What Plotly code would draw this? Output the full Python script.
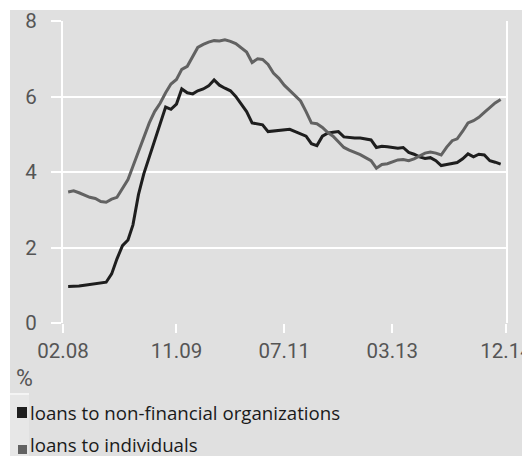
import plotly.graph_objects as go
import pandas as pd

# ---- data (monthly, Mar 2008 .. Nov 2014), % ----
dates = pd.date_range("2008-03-01", "2014-11-01", freq="MS")

nonfin = [
    0.97, 0.97, 0.98, 1.00, 1.02, 1.04, 1.05, 1.08, 1.30, 1.70,
    2.05, 2.20, 2.60, 3.40, 3.95, 4.40, 4.85, 5.33, 5.72, 5.66,
    5.80, 6.20, 6.10, 6.07, 6.15, 6.20, 6.28, 6.44, 6.30, 6.22,
    6.15, 6.00, 5.80, 5.60, 5.30, 5.27, 5.25, 5.07, 5.08, 5.10,
    5.12, 5.13, 5.07, 5.00, 4.95, 4.75, 4.70, 4.95, 5.03, 5.05,
    5.07, 4.93, 4.91, 4.90, 4.90, 4.87, 4.85, 4.65, 4.68, 4.67,
    4.65, 4.63, 4.65, 4.52, 4.47, 4.40, 4.36, 4.38, 4.30, 4.17,
    4.20, 4.22, 4.25, 4.35, 4.48, 4.40, 4.47, 4.45, 4.30, 4.26,
    4.21,
]

individuals = [
    3.47, 3.50, 3.45, 3.38, 3.33, 3.30, 3.22, 3.20, 3.28, 3.33,
    3.55, 3.80, 4.15, 4.55, 4.90, 5.30, 5.60, 5.82, 6.10, 6.33,
    6.45, 6.72, 6.80, 7.05, 7.30, 7.38, 7.44, 7.48, 7.47, 7.50,
    7.46, 7.40, 7.30, 7.18, 6.90, 7.00, 6.98, 6.85, 6.62, 6.48,
    6.30, 6.16, 6.04, 5.88, 5.60, 5.30, 5.28, 5.18, 5.05, 4.95,
    4.80, 4.65, 4.58, 4.52, 4.46, 4.38, 4.30, 4.10, 4.20, 4.22,
    4.27, 4.32, 4.33, 4.30, 4.35, 4.43, 4.50, 4.53, 4.50, 4.45,
    4.66, 4.83, 4.88, 5.08, 5.30, 5.36, 5.45, 5.58, 5.72, 5.83,
    5.92,
]

tick_dates = ["2008-02-01", "2009-11-01", "2011-07-01", "2013-03-01", "2014-12-01"]
tick_labels = ["02.08", "11.09", "07.11", "03.13", "12.14"]
y_ticks = [0, 2, 4, 6, 8]

series_names = ["loans to non-financial organizations", "loans to individuals"]
series_colors = ["#1e1e1e", "#626262"]

# ---- geometry helpers (pixel -> paper) ----
W, H = 522, 456
L, R, T, B = 63, 506, 21, 323


def px(x):
    return (x - L) / (R - L)


def py(y):
    return (B - y) / (B - T)


BG = "#e0e0e0"
AXIS_FONT = dict(family="Roboto, sans-serif", size=20.5, color="#555555")
PCT_FONT = dict(family="Roboto, sans-serif", size=23, color="#555555")
LEG_FONT = dict(family="Open Sans, sans-serif", size=18.7, color="#1a1a1a")

fig = go.Figure()
for name, vals, col in zip(series_names, [nonfin, individuals], series_colors):
    fig.add_trace(go.Scatter(x=dates, y=vals, mode="lines", name=name,
                             line=dict(color=col, width=3), showlegend=False))

shapes = [
    # outer grey panel
    dict(type="rect", xref="paper", yref="paper", x0=px(10), x1=px(W + 5),
         y0=py(H + 5), y1=py(10), fillcolor=BG, line=dict(width=0), layer="below"),
    # lighter strip left of legend
    dict(type="rect", xref="paper", yref="paper", x0=px(10), x1=px(29),
         y0=py(H + 5), y1=py(394), fillcolor="#e7e7e7", line=dict(width=0), layer="below"),
    dict(type="line", xref="paper", yref="paper", x0=px(10), x1=px(29),
         y0=py(394), y1=py(394), line=dict(color="#f4f4f4", width=2), layer="below"),
    # legend squares
    dict(type="rect", xref="paper", yref="paper", x0=px(17), x1=px(27),
         y0=py(418), y1=py(407), fillcolor=series_colors[0], line=dict(width=0)),
    dict(type="rect", xref="paper", yref="paper", x0=px(18), x1=px(27),
         y0=py(454), y1=py(445), fillcolor=series_colors[1], line=dict(width=0)),
]

annotations = [
    dict(text="%", xref="paper", yref="paper", x=px(14), y=py(378),
         xanchor="left", yanchor="middle", showarrow=False, font=PCT_FONT),
    dict(text=series_names[0], xref="paper", yref="paper", x=px(28), y=py(412),
         xanchor="left", yanchor="middle", showarrow=False, font=LEG_FONT),
    dict(text=series_names[1], xref="paper", yref="paper", x=px(28), y=py(444),
         xanchor="left", yanchor="middle", showarrow=False, font=LEG_FONT),
]

fig.update_layout(
    template="none",
    width=W, height=H,
    margin=dict(l=L, r=W - R, t=T, b=H - B, pad=0),
    paper_bgcolor="white",
    plot_bgcolor=BG,
    shapes=shapes,
    annotations=annotations,
    xaxis=dict(
        type="date", automargin=False,
        range=[tick_dates[0], tick_dates[-1]],
        tickmode="array", tickvals=tick_dates, ticktext=tick_labels,
        showgrid=False, zeroline=False, showline=False,
        ticks="outside", ticklen=9, tickwidth=2, tickcolor="white",
        tickfont=AXIS_FONT, ticklabeloverflow="allow",
        fixedrange=True,
    ),
    yaxis=dict(
        automargin=False,
        range=[0, 8],
        tickmode="array", tickvals=y_ticks,
        showgrid=True, gridcolor="white", gridwidth=2,
        zeroline=False,
        showline=True, linecolor="white", linewidth=2, mirror=True,
        ticks="outside", ticklen=10, tickwidth=2, tickcolor="white",
        tickfont=AXIS_FONT, ticklabelstandoff=10,
        fixedrange=True,
    ),
)

fig.write_html("out.html", config={"displayModeBar": False},
               post_script="document.body.style.margin='0';")
